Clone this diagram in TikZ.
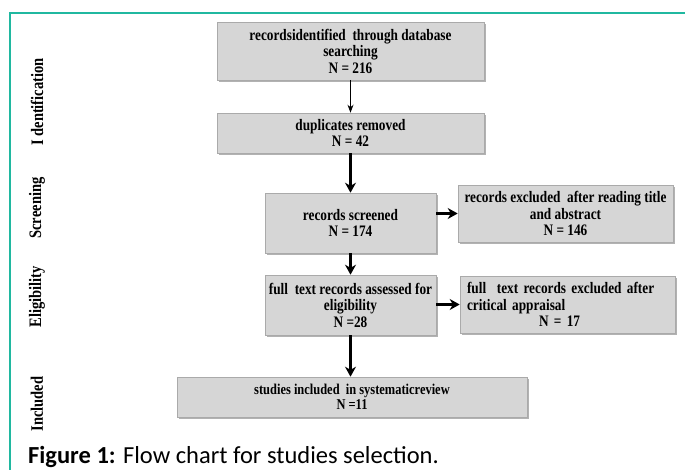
\documentclass[tikz,border=0pt]{standalone}
\usepackage{fontspec}
\usepackage{tikz}
\usetikzlibrary{arrows.meta,shadows,positioning}
\usepackage{xcolor}
\definecolor{framemain}{RGB}{32,184,160}
\definecolor{boxfill}{RGB}{214,214,214}
\definecolor{boxedge}{RGB}{170,170,170}
\newfontfamily\flowfont{Liberation Serif}[FakeStretch=0.83]
\newfontfamily\capfont{Carlito}

\begin{document}
\begin{tikzpicture}[x=1pt,y=-1pt,
    flowbox/.style={draw=boxedge,fill=boxfill,line width=0.6pt,align=center,inner xsep=2pt,
      font=\flowfont\bfseries\fontsize{16}{16.5}\selectfont,
      drop shadow={shadow xshift=1.6pt,shadow yshift=-1.8pt,fill=black!55,opacity=0.55}},
    phaselab/.style={rotate=90,font=\flowfont\bfseries\fontsize{17.5}{18}\selectfont},
    thinarr/.style={-{Stealth[length=8pt,width=6pt]},line width=0.8pt},
    thickarr/.style={-{Stealth[length=10pt,width=11pt]},line width=2.4pt}]
    \useasboundingbox (0,0) rectangle (685,470);
    % frame
    \draw[framemain,line width=1.2pt] (10,470) -- (10,13) -- (685,13);
    % boxes
    \node[flowbox,minimum width=267,minimum height=58] (found) at (350.5,51)
      {recordsidentified\ \ through database\\searching\\N = 216};
    \node[flowbox,minimum width=267,minimum height=40] (dupl) at (350.5,133)
      {duplicates removed\\N = 42};
    \node[flowbox,minimum width=171,minimum height=60] (screen) at (350.5,223)
      {records screened\\N = 174};
    \node[flowbox,minimum width=215,minimum height=57] (exclA) at (565.5,213.5)
      {records excluded\ \ after reading title\\and abstract\\N = 146};
    \node[flowbox,minimum width=171,minimum height=60] (assess) at (350.5,305)
      {full\ \ text records assessed for\\eligibility\\N =28};
    \node[flowbox,minimum width=215,minimum height=57,align=left,inner xsep=7pt,text width=201pt] (exclB) at (567.5,304.5)
      {full\ \ text records excluded after\\critical appraisal\\\hspace*{72pt}N = 17};
    \node[flowbox,minimum width=350,minimum height=40,font=\flowfont\bfseries\fontsize{15}{14.5}\selectfont] (incl) at (352,397)
      {studies included\ \ in systematicreview\\N =11};
    % phase labels
    \foreach \lab/\ypos [count=\i] in {I dentification/102,Screening/208,Eligibility/297,Included/404}
      \node[phaselab] (phase\i) at (37,\ypos) {\lab};
    % connectors
    \draw[thinarr] (found) -- (dupl);
    \draw[thickarr] (dupl) -- (screen);
    \draw[thickarr] (screen.east |- exclA.west) -- (exclA.west);
    \draw[thickarr] (screen) -- (assess);
    \draw[thickarr] (assess.east |- exclB.west) -- (exclB.west);
    \draw[thickarr] (assess.south) -- (assess.south |- incl.north);
    % caption
    \node[anchor=base west,inner sep=0pt,font=\capfont\fontsize{24.5}{26}\selectfont] (caption) at (28,463)
      {\textbf{Figure 1:} Flow chart for studies selection.};
  \end{tikzpicture}
\end{document}
